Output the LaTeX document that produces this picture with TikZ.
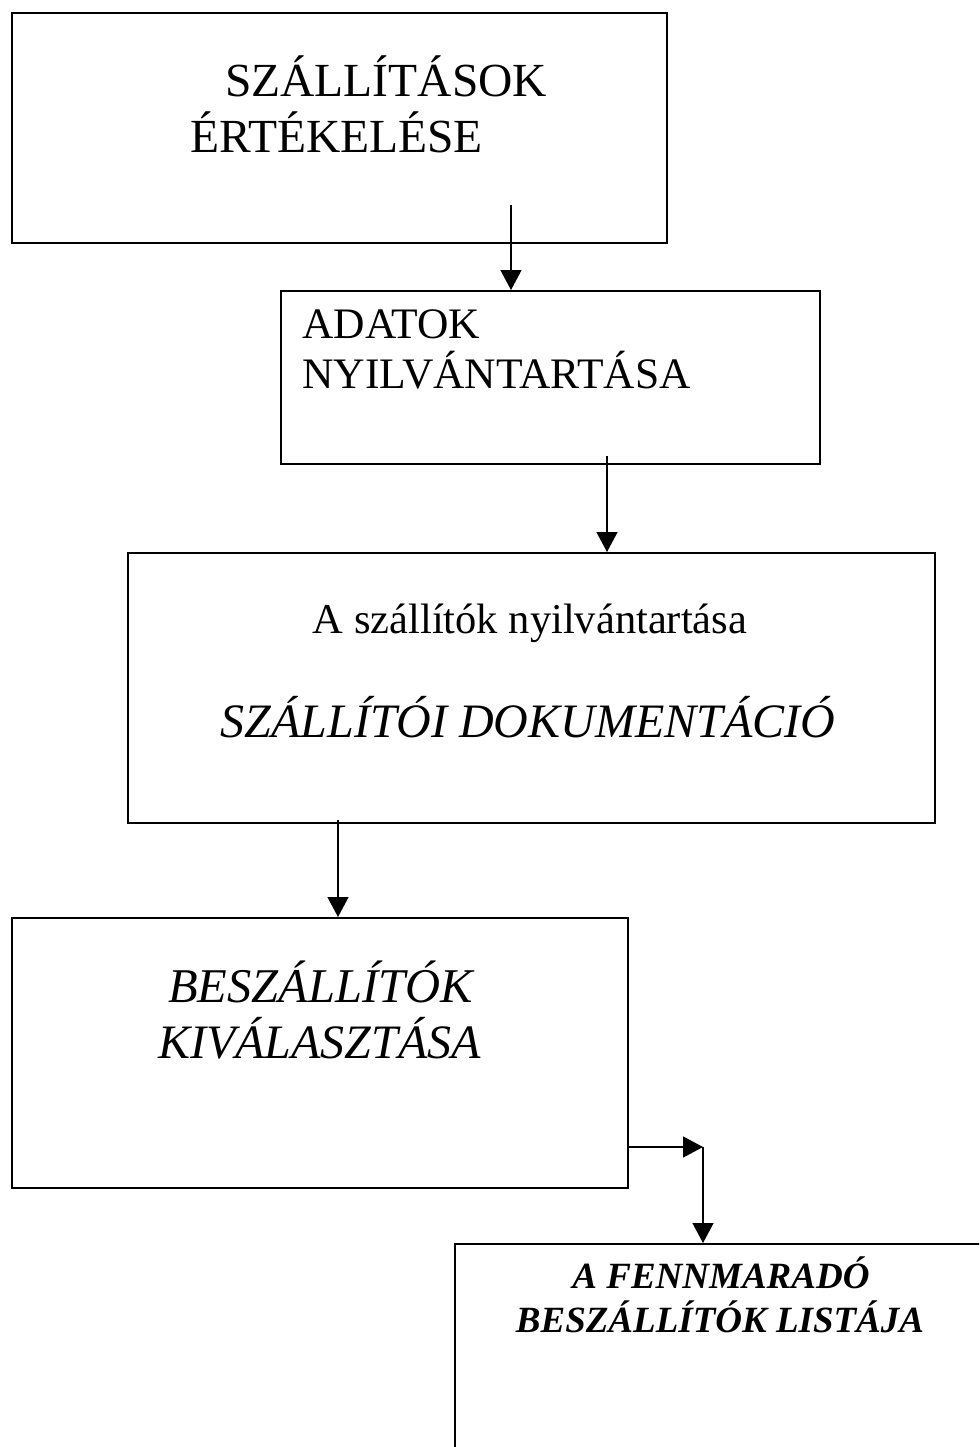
\documentclass[tikz,border=0pt]{standalone}
\usepackage{fontspec}
\setmainfont{Liberation Serif}
\usetikzlibrary{arrows.meta}
\newcommand{\fsz}[1]{\fontsize{#1}{#1}\selectfont}
\begin{document}
\begin{tikzpicture}[x=1pt,y=-1pt,
  box/.style={draw,line width=1.7pt,inner sep=0pt,anchor=north west},
  lbl/.style={inner sep=0pt},
  arr/.style={line width=1.3pt,-{Triangle[width=21pt,length=20pt]}}]
\clip (0,0) rectangle (979,1447);
\fill[white] (0,0) rectangle (979,1447);
% boxes
\node[box,minimum width=655pt,minimum height=230pt] (b1) at (11,12) {};
\node[box,minimum width=539pt,minimum height=173pt] (b2) at (280,290) {};
\node[box,minimum width=807pt,minimum height=270pt] (b3) at (127,552) {};
\node[box,minimum width=616pt,minimum height=270pt] (b4) at (11,917) {};
\node[box,minimum width=560pt,minimum height=240pt] (b5) at (454,1243) {};
% texts
\node[lbl,anchor=base west] (t1a) at (225,97) {\fsz{47.5}SZÁLLÍTÁSOK};
\node[lbl,anchor=base west] (t1b) at (190,153) {\fsz{47.5}ÉRTÉKELÉSE};
\node[lbl,anchor=base west] (t2a) at (302,338) {\fsz{43.5}ADATOK};
\node[lbl,anchor=base west] (t2b) at (302,388) {\fsz{43.5}NYILVÁNTARTÁSA};
\node[lbl,anchor=base] (t3a) at (530,633) {\fsz{42.5}A szállítók nyilvántartása};
\node[lbl,anchor=base] (t3b) at (528,737) {\fsz{48}\itshape SZÁLLÍTÓI DOKUMENTÁCIÓ};
\node[lbl,anchor=base west] (t4a) at (168,1002) {\fsz{48.5}\itshape BESZÁLLÍTÓK};
\node[lbl,anchor=base west] (t4b) at (158,1058) {\fsz{48}\itshape KIVÁLASZTÁSA};
\node[lbl,anchor=base] (t5a) at (721,1288) {\fsz{37}\bfseries\itshape A FENNMARADÓ};
\node[lbl,anchor=base] (t5b) at (720,1332) {\fsz{37}\bfseries\itshape BESZÁLLÍTÓK LISTÁJA};
% connectors
\coordinate (s1) at (511,205);
\coordinate (s2) at (607,456);
\coordinate (s3) at (338,820);
\coordinate (s4) at (627,1147);
\coordinate (k4) at (703,1147);
\draw[arr] (s1) -- (s1 |- b2.north);
\draw[arr] (s2) -- (s2 |- b3.north);
\draw[arr] (s3) -- (s3 |- b4.north);
\draw[arr] (s4) -- (k4);
\draw[arr] (k4) -- (k4 |- b5.north);
\end{tikzpicture}
\end{document}
